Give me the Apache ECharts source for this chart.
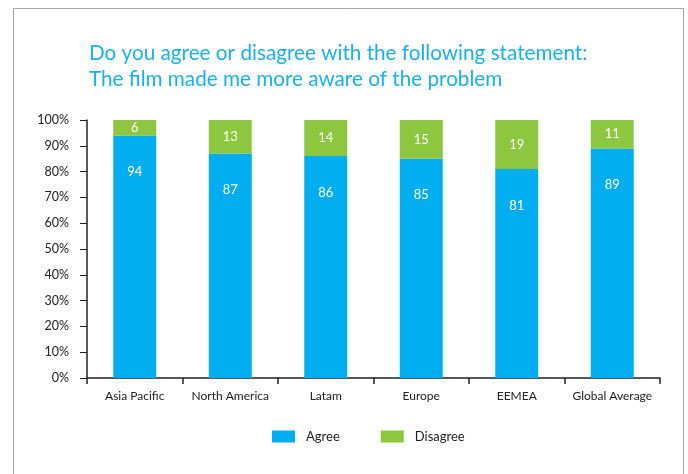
<!DOCTYPE html>
<html>
<head>
<meta charset="utf-8">
<script src="https://cdn.jsdelivr.net/npm/echarts@6/dist/echarts.min.js"></script>
<style>
  html, body { margin: 0; padding: 0; background: #fff; }
  #chart { width: 688px; height: 474px; }
</style>
</head>
<body>
<div id="chart"></div>
<script>
// data
var categories = ["Asia Pacific", "North America", "Latam", "Europe", "EEMEA", "Global Average"];
var agreeValues = [94, 87, 86, 85, 81, 89];
var disagreeValues = [6, 13, 14, 15, 19, 11];
var yTicks = [0, 10, 20, 30, 40, 50, 60, 70, 80, 90, 100];

var fontName = "Lato";
var axisColor = "#222";

var myChart = echarts.init(document.getElementById("chart"));

var option = {
  animation: false,
  title: {
    text: "Do you agree or disagree with the following statement:\nThe film made me more aware of the problem",
    left: 84,
    top: 35,
    textStyle: {
      color: "#1ab0e8",
      fontFamily: fontName,
      fontWeight: "normal",
      fontSize: 20.7,
      lineHeight: 26
    }
  },
  graphic: [
    {
      type: "rect",
      shape: { x: 13.5, y: 8.5, width: 670, height: 480 },
      style: { fill: "none", stroke: "#a6a6a6", lineWidth: 1 },
      silent: true
    }
  ],
  legend: {
    top: 425,
    left: 267,
    itemWidth: 23,
    itemHeight: 12,
    itemGap: 41,
    icon: "rect",
    textStyle: {
      color: axisColor,
      fontFamily: fontName,
      fontSize: 13,
      padding: [0, 0, 0, 6]
    },
    data: ["Agree", "Disagree"]
  },
  grid: {
    left: 87,
    right: 28,
    top: 120,
    bottom: 96
  },
  xAxis: {
    type: "category",
    data: categories,
    axisLine: { lineStyle: { color: axisColor, width: 1.5 } },
    axisTick: { show: true, length: 6, lineStyle: { color: axisColor, width: 1.5 } },
    axisLabel: {
      color: axisColor,
      fontFamily: fontName,
      fontSize: 12,
      margin: 12,
      interval: 0
    }
  },
  yAxis: {
    type: "value",
    min: yTicks[0],
    max: yTicks[yTicks.length - 1],
    interval: 10,
    splitLine: { show: false },
    axisLine: { show: true, lineStyle: { color: axisColor, width: 1.5 } },
    axisTick: { show: true, length: 7, lineStyle: { color: axisColor, width: 1 } },
    axisLabel: {
      color: axisColor,
      fontFamily: fontName,
      fontSize: 12.5,
      margin: 18,
      formatter: "{value}%"
    }
  },
  series: [
    {
      name: "Agree",
      type: "bar",
      stack: "total",
      barWidth: "45%",
      itemStyle: { color: "#00aeef" },
      label: {
        show: true,
        position: "insideTop",
        distance: 30,
        color: "#fff",
        fontFamily: fontName,
        fontSize: 13
      },
      data: agreeValues
    },
    {
      name: "Disagree",
      type: "bar",
      stack: "total",
      barWidth: "45%",
      itemStyle: { color: "#8dc63f" },
      label: {
        show: true,
        position: "inside",
        color: "#fff",
        fontFamily: fontName,
        fontSize: 13
      },
      data: disagreeValues
    }
  ]
};

myChart.setOption(option);
</script>
</body>
</html>
